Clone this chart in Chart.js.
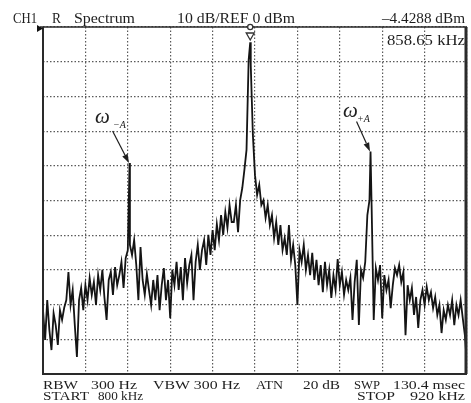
<!DOCTYPE html>
<html>
<head>
<meta charset="utf-8">
<script src="https://cdn.jsdelivr.net/npm/chart.js@4.4.0/dist/chart.umd.min.js"></script>
<style>
html,body{margin:0;padding:0;background:#fff;}
canvas{display:block;}
</style>
</head>
<body>
<canvas id="myChart" width="471" height="403"></canvas>
<script>
// sweep settings (kHz, dBm)
var freqStart = 800;
var freqStop = 920;
var freqStep = 0.6;
var refLevel = 0;
var dbPerDiv = 10;

// trace, one value per sweep step
var levels = [
  -81.6, -90.2, -78.7, -87.3, -93.1, -82.5, -85.9, -91.6, -81.6, -84.4,
  -80.9, -78.7, -70.6, -80.1, -75.8, -85.9, -95.1, -78.7, -75.2, -81.6,
  -74.4, -78.7, -72.3, -77.2, -73.5, -80.1, -71.5, -75.8, -70.0, -78.1,
  -84.4, -72.9, -70.6, -77.2, -69.2, -74.4, -71.5, -67.7, -75.2, -66.6,
  -64.3, -62.8, -65.7, -61.4, -68.6, -78.7, -63.4, -72.9, -77.2, -71.2,
  -75.8, -80.1, -72.9, -78.7, -71.5, -81.6, -74.4, -69.5, -78.7, -72.9,
  -83.9, -70.0, -74.4, -67.7, -75.8, -69.2, -78.7, -66.6, -73.8, -68.6,
  -65.7, -78.7, -67.7, -62.8, -70.0, -64.3, -61.4, -68.6, -59.9, -65.7,
  -58.5, -64.3, -56.8, -61.4, -54.2, -59.9, -53.3, -57.9, -51.3, -56.2,
  -56.2, -51.3, -59.1, -49.9, -46.4, -41.2, -35.4, -9.5, -11.0, -31.1,
  -42.7, -48.4, -45.5, -51.3, -49.9, -55.0, -51.3, -57.1, -54.2, -60.8,
  -56.2, -62.8, -57.1, -64.3, -60.8, -65.7, -57.1, -67.1, -62.8, -68.6,
  -80.1, -64.3, -67.7, -62.8, -70.0, -65.7, -71.5, -65.1, -72.9, -67.1,
  -74.4, -68.6, -76.4, -67.7, -74.4, -70.0, -78.1, -71.5, -75.8, -66.9,
  -74.4, -70.6, -77.2, -72.9, -75.8, -72.3, -84.4, -73.5, -67.1, -85.9,
  -70.0, -72.3, -67.7, -54.2, -49.9, -51.3, -84.4, -69.5, -72.9, -68.6,
  -83.9, -71.5, -75.8, -72.9, -81.0, -74.4, -69.5, -71.5, -68.6, -73.5,
  -70.6, -88.8, -74.4, -78.7, -75.2, -83.0, -77.8, -86.7, -78.7, -75.8,
  -80.1, -74.9, -78.7, -76.4, -81.0, -77.8, -83.0, -80.1, -88.2, -81.6,
  -84.4, -80.1, -83.0, -78.7, -85.9, -80.1, -83.0, -78.7, -83.9, -88.8,
  -97.4
];

// the three spectral lines (omega-A, carrier, omega+A)
var peakFreqs = [824.5, 858.65, 892.7];
var peakLevels = [-39.2, -4.43, -35.9];
var peakNames = ['\u2212A', '', '+A'];

// on-screen readouts
var headerTexts = ['CH1', 'R', 'Spectrum', '10 dB/REF 0 dBm', '\u20134.4288 dBm'];
var markerText = '858.65 kHz';
var footerRow1 = ['RBW', '300 Hz', 'VBW 300 Hz', 'ATN', '20 dB', 'SWP', '130.4 msec'];
var footerRow2 = ['START', '800 kHz', 'STOP', '920 kHz'];

// build the point list
var trace = [];
for (var i = 0; i < levels.length; i++) {
  trace.push({x: freqStart + i * freqStep, y: levels[i]});
}
for (var j = 0; j < peakFreqs.length; j++) {
  trace.push({x: peakFreqs[j], y: peakLevels[j]});
}
trace.sort(function(a, b){ return a.x - b.x; });

var SERIF = '"Liberation Serif", "DejaVu Serif", serif';
var INK = '#1e1e1e';

function drawText(ctx, s, x, y, size, w, style) {
  ctx.save();
  ctx.font = (style || '') + ' ' + size + 'px ' + SERIF;
  ctx.fillStyle = INK;
  ctx.textBaseline = 'alphabetic';
  var m = ctx.measureText(s).width;
  ctx.translate(x, y);
  if (w) ctx.scale(w / m, 1);
  ctx.fillText(s, 0, 0);
  ctx.restore();
}

function arrow(ctx, x0, y0, x1, y1) {
  var a = Math.atan2(y1 - y0, x1 - x0);
  var L = 9, W = 3;
  ctx.save();
  ctx.strokeStyle = INK;
  ctx.fillStyle = INK;
  ctx.lineWidth = 1.2;
  ctx.beginPath();
  ctx.moveTo(x0, y0);
  ctx.lineTo(x1 - L * Math.cos(a), y1 - L * Math.sin(a));
  ctx.stroke();
  ctx.beginPath();
  ctx.moveTo(x1, y1);
  ctx.lineTo(x1 - L * Math.cos(a) + W * Math.sin(a), y1 - L * Math.sin(a) - W * Math.cos(a));
  ctx.lineTo(x1 - L * Math.cos(a) - W * Math.sin(a), y1 - L * Math.sin(a) + W * Math.cos(a));
  ctx.closePath();
  ctx.fill();
  ctx.restore();
}

var screenPlugin = {
  id: 'screen',
  beforeDraw: function(chart) {
    var ctx = chart.ctx;
    ctx.save();
    ctx.fillStyle = '#fff';
    ctx.fillRect(0, 0, chart.width, chart.height);
    ctx.restore();
  },
  afterDraw: function(chart) {
    var ctx = chart.ctx;
    var a = chart.chartArea;
    var xs = chart.scales.x, ys = chart.scales.y;

    // frame
    ctx.save();
    ctx.strokeStyle = '#2a2a2a';
    ctx.lineWidth = 1.6;
    ctx.beginPath();
    ctx.moveTo(a.left - 3, a.top);
    ctx.lineTo(a.right, a.top);
    ctx.stroke();
    ctx.lineWidth = 2;
    ctx.beginPath();
    ctx.moveTo(a.left, a.top);
    ctx.lineTo(a.left, a.bottom);
    ctx.lineTo(a.right, a.bottom);
    ctx.stroke();
    ctx.lineWidth = 3;
    ctx.beginPath();
    ctx.moveTo(a.right - 1, a.top);
    ctx.lineTo(a.right - 1, a.bottom);
    ctx.stroke();

    // reference level marker on the left
    var yr = ys.getPixelForValue(refLevel) + 1.5;
    ctx.fillStyle = '#111';
    ctx.beginPath();
    ctx.moveTo(a.left - 6, yr - 3.5);
    ctx.lineTo(a.left, yr);
    ctx.lineTo(a.left - 6, yr + 3.5);
    ctx.closePath();
    ctx.fill();

    // marker on the carrier
    var xm = xs.getPixelForValue(peakFreqs[1]);
    ctx.strokeStyle = '#333';
    ctx.fillStyle = '#fff';
    ctx.lineWidth = 1.3;
    ctx.beginPath();
    ctx.arc(xm, a.top, 2.6, 0, Math.PI * 2);
    ctx.fill();
    ctx.stroke();
    ctx.beginPath();
    ctx.moveTo(xm - 4, a.top + 6);
    ctx.lineTo(xm + 4, a.top + 6);
    ctx.lineTo(xm, a.top + 13);
    ctx.closePath();
    ctx.fill();
    ctx.stroke();
    ctx.restore();

    // header
    drawText(ctx, headerTexts[0], 13, 23, 15, 24);
    drawText(ctx, headerTexts[1], 52, 23, 15, 9);
    drawText(ctx, headerTexts[2], 74, 23, 15, 61);
    drawText(ctx, headerTexts[3], 177, 23, 15, 118);
    drawText(ctx, headerTexts[4], 382, 23, 15, 83);
    drawText(ctx, markerText, 387, 45, 15, 78);

    // footer
    var r1 = [[43, 35], [91, 46], [153, 87], [256, 27], [303, 37], [354, 26], [393, 72]];
    for (var k = 0; k < footerRow1.length; k++) {
      drawText(ctx, footerRow1[k], r1[k][0], 389, 13, r1[k][1]);
    }
    var r2 = [[43, 46], [98, 45], [357, 38], [410, 55]];
    for (var m = 0; m < footerRow2.length; m++) {
      drawText(ctx, footerRow2[m], r2[m][0], 400, 13, r2[m][1]);
    }

    // sideband labels with arrows
    var sb = [
      {idx: 0, sx: -17, sy: -32, wx: -34.5, wy: -40, bx: -16.5, by: -35.5},
      {idx: 2, sx: -14, sy: -30, wx: -27.5, wy: -35, bx: -13.5, by: -29.5}
    ];
    sb.forEach(function(s) {
      var tx = xs.getPixelForValue(peakFreqs[s.idx]);
      var ty = ys.getPixelForValue(peakLevels[s.idx]);
      arrow(ctx, tx + s.sx, ty + s.sy, tx - 0.5, ty);
      drawText(ctx, '\u03c9', tx + s.wx, ty + s.wy, 21, null, 'italic');
      drawText(ctx, peakNames[s.idx], tx + s.bx, ty + s.by, 10, null, 'italic');
    });
  }
};

var ctx = document.getElementById('myChart').getContext('2d');
var chart = new Chart(ctx, {
  type: 'line',
  data: {
    datasets: [{
      label: 'Spectrum',
      data: trace,
      borderColor: '#141414',
      borderWidth: 1.8,
      pointRadius: 0,
      tension: 0,
      fill: false
    }]
  },
  options: {
    responsive: false,
    animation: false,
    layout: {padding: {left: 43, right: 4, top: 27, bottom: 29}},
    plugins: {legend: {display: false}, tooltip: {enabled: false}},
    scales: {
      x: {
        type: 'linear',
        min: freqStart,
        max: freqStop,
        ticks: {display: false, stepSize: (freqStop - freqStart) / 10},
        grid: {color: '#5a5a5a', lineWidth: 1.2, drawTicks: false},
        border: {display: false, dash: [1.5, 2]}
      },
      y: {
        min: refLevel - 10 * dbPerDiv,
        max: refLevel,
        ticks: {display: false, stepSize: dbPerDiv},
        grid: {color: '#5a5a5a', lineWidth: 1.2, drawTicks: false},
        border: {display: false, dash: [1.5, 2]}
      }
    }
  },
  plugins: [screenPlugin]
});
</script>
</body>
</html>
